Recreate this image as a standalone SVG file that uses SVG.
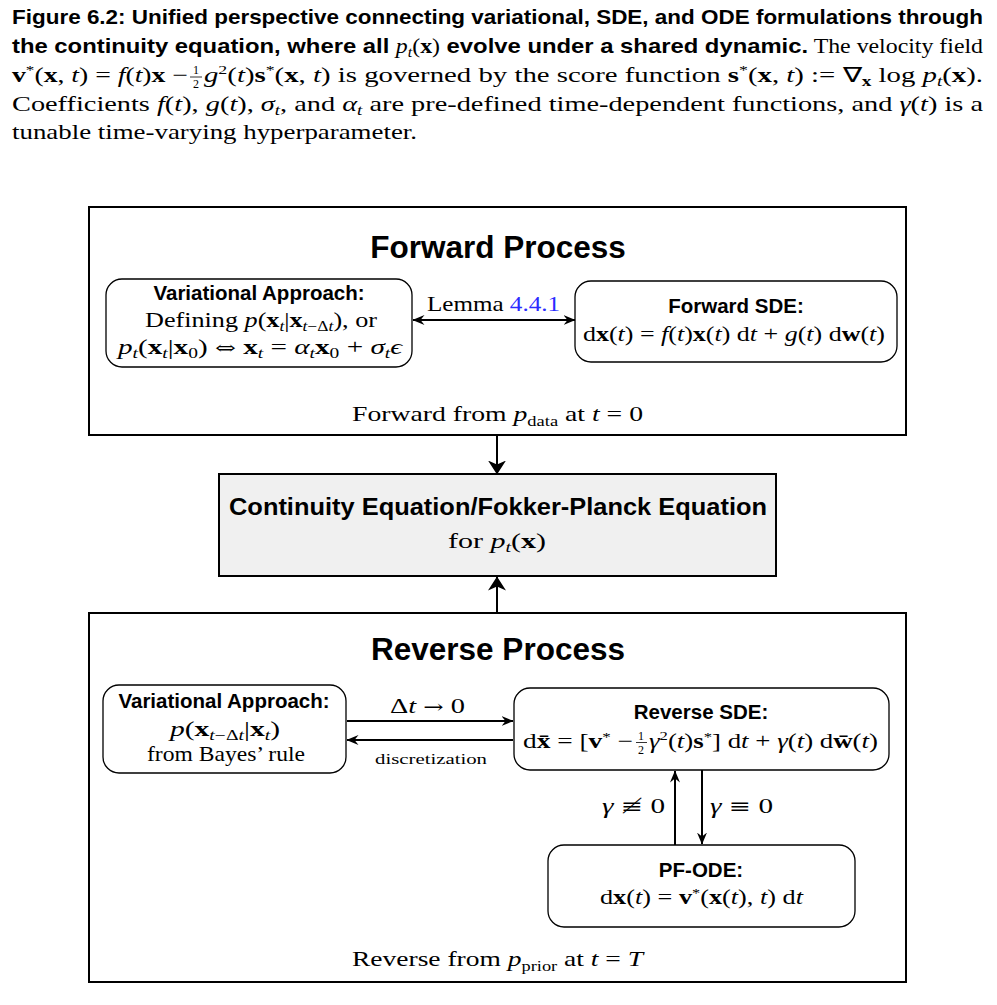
<svg xmlns="http://www.w3.org/2000/svg" width="997" height="1005" viewBox="0 0 997 1005">
<style>
.cap{font-family:"Liberation Sans",Arial,sans-serif;font-weight:bold;fill:#000}
.rm{font-family:"Liberation Serif","Times New Roman",serif;font-weight:normal;font-style:normal}
.mi{font-family:"Liberation Serif","Times New Roman",serif;font-style:italic;font-weight:normal}
.mb{font-family:"Liberation Serif","Times New Roman",serif;font-weight:bold;font-style:normal}
.sy{font-family:"DejaVu Serif","DejaVu Sans",serif;font-weight:normal;font-style:normal}
.body{font-family:"Liberation Serif","Times New Roman",serif;fill:#000}
.ttl{font-family:"Liberation Sans",Arial,sans-serif;font-weight:bold;fill:#000}
.nt{font-family:"Liberation Sans",Arial,sans-serif;font-weight:bold;fill:#000}
.nb{font-family:"Liberation Serif","Times New Roman",serif;fill:#000}
.outer{fill:#fff;stroke:#000;stroke-width:2}
.node{fill:#fff;stroke:#000;stroke-width:1.3}
.conn line{stroke:#000;stroke-width:2}
</style>
<defs>
<marker id="ah" viewBox="0 0 12 10" refX="11.5" refY="5" markerWidth="12" markerHeight="10" markerUnits="userSpaceOnUse" orient="auto-start-reverse"><path d="M0,0 L12,5 L0,10 L4,5 z" fill="#000"/></marker>
<marker id="big" viewBox="0 0 14 18" refX="13.5" refY="9" markerWidth="14" markerHeight="18" markerUnits="userSpaceOnUse" orient="auto"><path d="M0,0 L14,9 L0,18 L4,9 z" fill="#000"/></marker>
</defs>
<rect width="997" height="1005" fill="#fff"/>

<!-- caption -->
<g id="caption">
<text class="cap" x="12" y="24" font-size="21" textLength="971" lengthAdjust="spacingAndGlyphs">Figure 6.2: Unified perspective connecting variational, SDE, and ODE formulations through</text>
<text class="cap" x="12" y="53" font-size="21" textLength="971" lengthAdjust="spacingAndGlyphs">the continuity equation, where all <tspan class="mi" font-size="21">p</tspan><tspan class="mi" font-size="14" dy="4">t</tspan><tspan class="rm" font-size="21" dy="-4">(</tspan><tspan class="mb" font-size="21">x</tspan><tspan class="rm" font-size="21">)</tspan> evolve under a shared dynamic.<tspan class="rm" font-size="21"> The velocity field</tspan></text>
<text class="body" x="12" y="82" font-size="21" textLength="176" lengthAdjust="spacingAndGlyphs"><tspan class="mb">v</tspan><tspan font-size="13" dy="-8">*</tspan><tspan dy="8">(</tspan><tspan class="mb">x</tspan>, <tspan class="mi">t</tspan>) = <tspan class="mi">f</tspan>(<tspan class="mi">t</tspan>)<tspan class="mb">x</tspan> − </text>
<text class="body" x="196" y="74" font-size="12" text-anchor="middle">1</text>
<line x1="190" y1="77" x2="202" y2="77" stroke="#000" stroke-width="0.8"/>
<text class="body" x="196" y="88" font-size="12" text-anchor="middle">2</text>
<text class="body" x="204" y="82" font-size="21" textLength="779" lengthAdjust="spacingAndGlyphs"><tspan class="mi">g</tspan><tspan font-size="13" dy="-8">2</tspan><tspan dy="8">(</tspan><tspan class="mi">t</tspan>)<tspan class="mb">s</tspan><tspan font-size="13" dy="-8">*</tspan><tspan dy="8">(</tspan><tspan class="mb">x</tspan>, <tspan class="mi">t</tspan>) is governed by the score function <tspan class="mb">s</tspan><tspan font-size="13" dy="-8">*</tspan><tspan dy="8">(</tspan><tspan class="mb">x</tspan>, <tspan class="mi">t</tspan>) := ∇<tspan class="mb" font-size="14" dy="4">x</tspan><tspan dy="-4"> log </tspan><tspan class="mi">p</tspan><tspan class="mi" font-size="14" dy="4">t</tspan><tspan dy="-4">(</tspan><tspan class="mb">x</tspan>).</text>
<text class="body" x="12" y="111" font-size="21" textLength="971" lengthAdjust="spacingAndGlyphs">Coefficients <tspan class="mi">f</tspan>(<tspan class="mi">t</tspan>), <tspan class="mi">g</tspan>(<tspan class="mi">t</tspan>), <tspan class="mi">σ</tspan><tspan class="mi" font-size="14" dy="4">t</tspan><tspan dy="-4">, and </tspan><tspan class="mi">α</tspan><tspan class="mi" font-size="14" dy="4">t</tspan><tspan dy="-4"> are pre-defined time-dependent functions, and </tspan><tspan class="mi">γ</tspan>(<tspan class="mi">t</tspan>) is a</text>
<text class="body" x="12" y="139" font-size="21" textLength="405" lengthAdjust="spacingAndGlyphs">tunable time-varying hyperparameter.</text>
</g>

<!-- forward process container -->
<g id="forward-process">
<rect class="outer" x="89" y="207" width="817" height="228"/>
<text class="ttl" x="498" y="258" font-size="31.5" text-anchor="middle">Forward Process</text>
<text class="nb" x="352" y="421" font-size="21" textLength="291" lengthAdjust="spacingAndGlyphs">Forward from <tspan class="mi">p</tspan><tspan font-size="14" dy="5">data</tspan><tspan dy="-5"> at </tspan><tspan class="mi">t</tspan> = 0</text>
</g>

<g id="fwd-variational">
<rect class="node" x="106" y="279" width="306" height="88" rx="16"/>
<text class="nt" x="259" y="300" font-size="20.5" text-anchor="middle">Variational Approach:</text>
<text class="nb" x="145" y="327" font-size="21" textLength="232" lengthAdjust="spacingAndGlyphs">Defining <tspan class="mi">p</tspan>(<tspan class="mb">x</tspan><tspan class="mi" font-size="14" dy="4">t</tspan><tspan dy="-4">|</tspan><tspan class="mb">x</tspan><tspan font-size="14" dy="4"><tspan class="mi">t</tspan>−Δ<tspan class="mi">t</tspan></tspan><tspan dy="-4">), or</tspan></text>
<text class="nb" x="118" y="354" font-size="21" textLength="284" lengthAdjust="spacingAndGlyphs"><tspan class="mi">p</tspan><tspan class="mi" font-size="14" dy="4">t</tspan><tspan dy="-4">(</tspan><tspan class="mb">x</tspan><tspan class="mi" font-size="14" dy="4">t</tspan><tspan dy="-4">|</tspan><tspan class="mb">x</tspan><tspan font-size="14" dy="4">0</tspan><tspan dy="-4">) </tspan><tspan class="sy" font-size="18">⇔</tspan> <tspan class="mb">x</tspan><tspan class="mi" font-size="14" dy="4">t</tspan><tspan dy="-4"> = </tspan><tspan class="mi">α</tspan><tspan class="mi" font-size="14" dy="4">t</tspan><tspan class="mb" dy="-4">x</tspan><tspan font-size="14" dy="4">0</tspan><tspan dy="-4"> + </tspan><tspan class="mi">σ</tspan><tspan class="mi" font-size="14" dy="4">t</tspan><tspan class="mi" dy="-4">ϵ</tspan></text>
</g>

<g id="fwd-sde">
<rect class="node" x="575" y="281" width="322" height="81" rx="16"/>
<text class="nt" x="736" y="313" font-size="20.5" text-anchor="middle">Forward SDE:</text>
<text class="nb" x="583" y="341" font-size="21" textLength="302" lengthAdjust="spacingAndGlyphs">d<tspan class="mb">x</tspan>(<tspan class="mi">t</tspan>) = <tspan class="mi">f</tspan>(<tspan class="mi">t</tspan>)<tspan class="mb">x</tspan>(<tspan class="mi">t</tspan>) d<tspan class="mi">t</tspan> + <tspan class="mi">g</tspan>(<tspan class="mi">t</tspan>) d<tspan class="mb">w</tspan>(<tspan class="mi">t</tspan>)</text>
</g>

<g id="continuity">
<rect x="219" y="474" width="557" height="102" fill="#f0f0f0" stroke="#000" stroke-width="2"/>
<text class="nt" x="229" y="515" font-size="23.5" textLength="538" lengthAdjust="spacingAndGlyphs">Continuity Equation/Fokker-Planck Equation</text>
<text class="nb" x="448" y="548" font-size="21" textLength="98" lengthAdjust="spacingAndGlyphs">for <tspan class="mi">p</tspan><tspan class="mi" font-size="14" dy="4">t</tspan><tspan dy="-4">(</tspan><tspan class="mb">x</tspan>)</text>
</g>

<g id="reverse-process">
<rect class="outer" x="89" y="613" width="817" height="369"/>
<text class="ttl" x="498" y="660" font-size="31.5" text-anchor="middle">Reverse Process</text>
<text class="nb" x="352" y="966" font-size="21" textLength="291" lengthAdjust="spacingAndGlyphs">Reverse from <tspan class="mi">p</tspan><tspan font-size="14" dy="5">prior</tspan><tspan dy="-5"> at </tspan><tspan class="mi">t</tspan> = <tspan class="mi">T</tspan></text>
</g>

<g id="rev-variational">
<rect class="node" x="103" y="685" width="243" height="88" rx="16"/>
<text class="nt" x="224" y="708" font-size="20.5" text-anchor="middle">Variational Approach:</text>
<text class="nb" x="170" y="736" font-size="21" textLength="110" lengthAdjust="spacingAndGlyphs"><tspan class="mi">p</tspan>(<tspan class="mb">x</tspan><tspan font-size="14" dy="4"><tspan class="mi">t</tspan>−Δ<tspan class="mi">t</tspan></tspan><tspan dy="-4">|</tspan><tspan class="mb">x</tspan><tspan class="mi" font-size="14" dy="4">t</tspan><tspan dy="-4">)</tspan></text>
<text class="nb" x="147" y="761" font-size="21" textLength="158" lengthAdjust="spacingAndGlyphs">from Bayes’ rule</text>
</g>

<g id="rev-sde">
<rect class="node" x="514" y="688" width="375" height="82" rx="16"/>
<text class="nt" x="701" y="719" font-size="20.5" text-anchor="middle">Reverse SDE:</text>
<text class="nb" x="523" y="748" font-size="21" textLength="110" lengthAdjust="spacingAndGlyphs">d<tspan class="mb">x̄</tspan> = [<tspan class="mb">v</tspan><tspan font-size="13" dy="-7">*</tspan><tspan dy="7"> − </tspan></text>
<text class="nb" x="641" y="739.5" font-size="12" text-anchor="middle">1</text>
<line x1="636" y1="742.5" x2="647" y2="742.5" stroke="#000" stroke-width="0.8"/>
<text class="nb" x="641" y="754" font-size="12" text-anchor="middle">2</text>
<text class="nb" x="649" y="748" font-size="21" textLength="229" lengthAdjust="spacingAndGlyphs"><tspan class="mi">γ</tspan><tspan font-size="13" dy="-8">2</tspan><tspan dy="8">(</tspan><tspan class="mi">t</tspan>)<tspan class="mb">s</tspan><tspan font-size="13" dy="-7">*</tspan><tspan dy="7">] d</tspan><tspan class="mi">t</tspan> + <tspan class="mi">γ</tspan>(<tspan class="mi">t</tspan>) d<tspan class="mb">w̄</tspan>(<tspan class="mi">t</tspan>)</text>
</g>

<g id="pf-ode">
<rect class="node" x="548" y="845" width="307" height="82" rx="16"/>
<text class="nt" x="701" y="877" font-size="20.5" text-anchor="middle">PF-ODE:</text>
<text class="nb" x="600" y="904" font-size="21" textLength="203" lengthAdjust="spacingAndGlyphs">d<tspan class="mb">x</tspan>(<tspan class="mi">t</tspan>) = <tspan class="mb">v</tspan><tspan font-size="13" dy="-7">*</tspan><tspan dy="7">(</tspan><tspan class="mb">x</tspan>(<tspan class="mi">t</tspan>), <tspan class="mi">t</tspan>) d<tspan class="mi">t</tspan></text>
</g>

<g id="connectors" class="conn">
<line x1="413" y1="320" x2="575" y2="320" marker-start="url(#ah)" marker-end="url(#ah)"/>
<line x1="497" y1="436" x2="497" y2="474" stroke-width="3" marker-end="url(#big)"/>
<line x1="497" y1="612" x2="497" y2="577" stroke-width="3" marker-end="url(#big)"/>
<line x1="347" y1="721" x2="513" y2="721" marker-end="url(#ah)"/>
<line x1="513" y1="740" x2="347" y2="740" marker-end="url(#ah)"/>
<line x1="675" y1="845" x2="675" y2="771" marker-end="url(#ah)"/>
<line x1="702" y1="770" x2="702" y2="844" marker-end="url(#ah)"/>
</g>

<g id="labels">
<text class="nb" x="427" y="311" font-size="21" textLength="133" lengthAdjust="spacingAndGlyphs">Lemma <tspan fill="#2b2bff">4.4.1</tspan></text>
<text class="nb" x="390" y="713" font-size="21" textLength="75" lengthAdjust="spacingAndGlyphs"><tspan>Δ</tspan><tspan class="mi">t</tspan> <tspan class="sy" font-size="18">→</tspan> 0</text>
<text class="nb" x="375" y="764" font-size="15" textLength="112" lengthAdjust="spacingAndGlyphs">discretization</text>
<text class="nb" x="602" y="813" font-size="22" textLength="63" lengthAdjust="spacingAndGlyphs"><tspan class="mi">γ</tspan> <tspan class="sy" font-size="20">≢</tspan> 0</text>
<text class="nb" x="710" y="813" font-size="22" textLength="63" lengthAdjust="spacingAndGlyphs"><tspan class="mi">γ</tspan> <tspan class="sy" font-size="20">≡</tspan> 0</text>
</g>
</svg>
